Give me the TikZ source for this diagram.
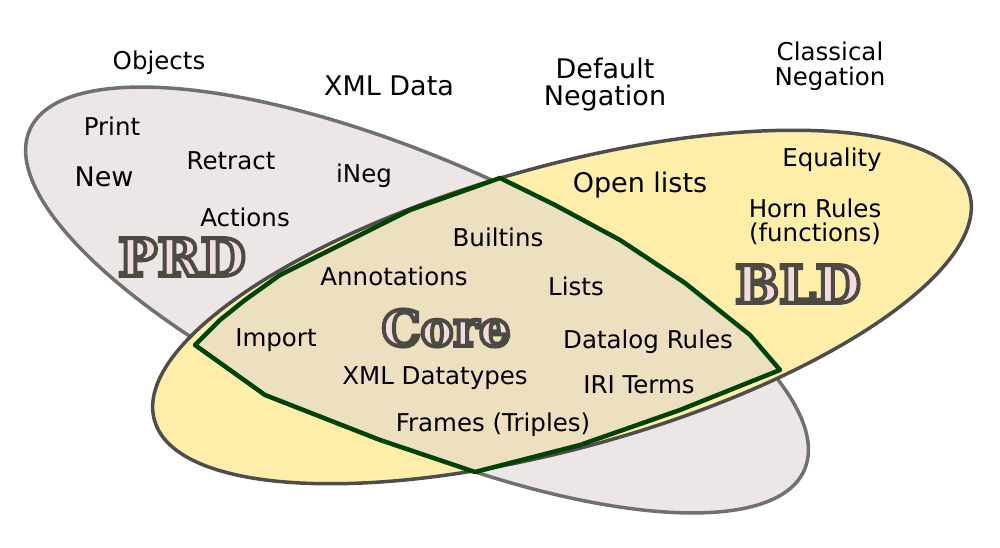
\documentclass[tikz,border=0pt]{standalone}
\usepackage{fontspec}
\setmainfont{DejaVu Sans}
\newfontfamily\slab{DejaVu Serif}
\definecolor{prdfill}{HTML}{ECE6E6}
\definecolor{prdline}{HTML}{707070}
\definecolor{bldfill}{HTML}{FFEEAA}
\definecolor{bldline}{HTML}{4D4D4D}
\definecolor{corefill}{HTML}{EDE0C0}
\definecolor{corelin}{HTML}{004400}
\definecolor{tfill}{HTML}{F2DCDC}
\newcommand{\outlinetext}[1]{\special{pdf:literal 2 Tr 4 w 0.30 0.29 0.26 RG}#1\special{pdf:literal 0 Tr}}
\tikzset{
 lab/.style={font=\fontsize{24.5}{26}\selectfont, align=center, inner sep=0pt},
 labb/.style={font=\fontsize{27}{29}\selectfont, align=center, inner sep=0pt},
 big/.style={font=\slab\bfseries\fontsize{52}{54}\selectfont, text=tfill, inner sep=0pt}
}
\begin{document}
\begin{tikzpicture}[x=1pt,y=-1pt]
\useasboundingbox (0,0) rectangle (1000,548);
\draw[prdline, line width=3.5pt, fill=prdfill, rotate around={-23.7:(417,300)}] (417,300) ellipse [x radius=423, y radius=140];
\draw[bldline, line width=3.5pt, fill=bldfill, rotate around={15.5:(562,307)}] (562,307) ellipse [x radius=423, y radius=141];
\draw[corelin, line width=4.5pt, fill=corefill, line join=round]
 (500,178) -- (555,205) -- (620,240) -- (685,283) -- (750,335) -- (780,370) -- (680,410) -- (580,445) -- (475,472) -- (380,440) -- (265,395) -- (195,345) -- (220,320) -- (245,300) -- (280,275) -- (330,250) -- (410,210) -- cycle;
\node[lab] (objects) at (159,63) {Objects};
\node[labb] (xmldata) at (389,86) {XML Data};
\node[labb] (defneg) at (605,85) {Default\\[-2pt]Negation};
\node[lab] (classneg) at (830,66) {Classical\\[-1pt]Negation};
\node[lab] (print) at (112,126) {Print};
\node[labb] (new) at (104,177) {New};
\node[lab] (retract) at (231,161) {Retract};
\node[lab] (ineg) at (364,176) {iNeg};
\node[lab] (actions) at (245,217) {Actions};
\node[lab] (builtins) at (498,237) {Builtins};
\node[lab] (annot) at (394,276) {Annotations};
\node[lab] (lists) at (576,286) {Lists};
\node[lab] (import) at (276,340) {Import};
\node[lab] (datalog) at (648,342) {Datalog Rules};
\node[lab] (xmldt) at (435,378) {XML Datatypes};
\node[lab] (iri) at (639,385) {IRI Terms};
\node[lab] (frames) at (493,425) {Frames (Triples)};
\node[labb] (open) at (640,185) {Open lists};
\node[lab] (equality) at (832,160) {Equality};
\node[lab] (horn) at (815,222) {Horn Rules\\[-2pt](functions)};
\node[big] (prd) at (182,257) {\outlinetext{PRD}};
\node[big, font=\slab\bfseries\fontsize{49}{51}\selectfont] (core) at (446,328) {\outlinetext{Core}};
\node[big] (bld) at (798,284) {\outlinetext{BLD}};
\end{tikzpicture}
\end{document}
